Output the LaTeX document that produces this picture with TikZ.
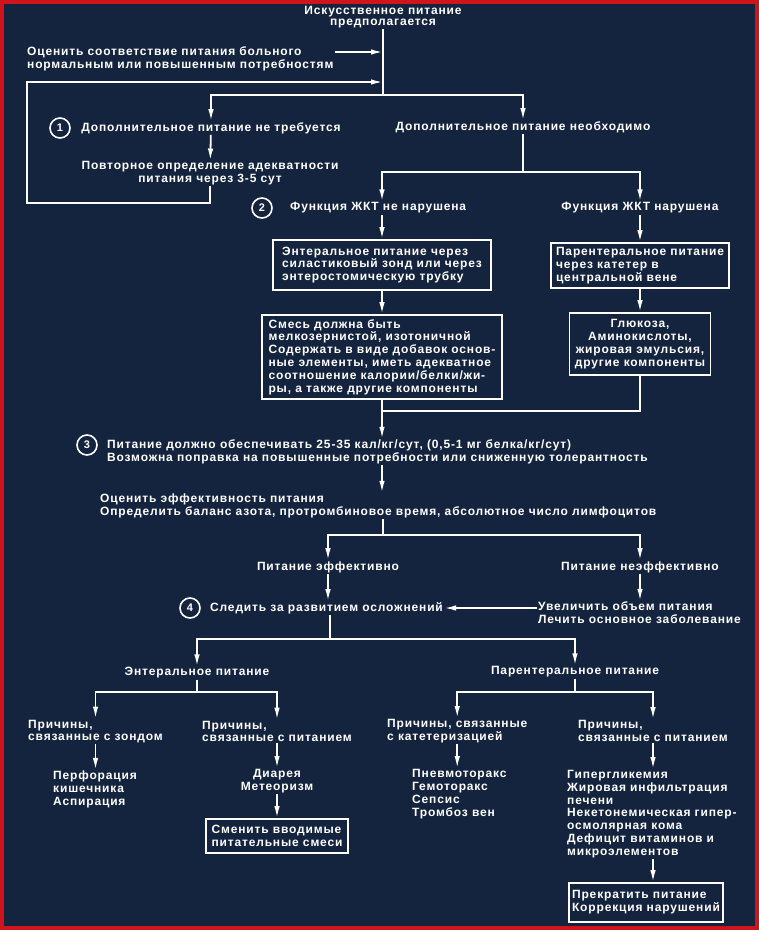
\documentclass[tikz,border=0pt]{standalone}
\usepackage{fontspec}
\setmainfont{Liberation Sans}[LetterSpace=7]
\usetikzlibrary{positioning,arrows.meta}
\definecolor{bgnavy}{HTML}{14243F}
\definecolor{framered}{HTML}{D0141C}
\tikzset{
  txt/.style={text=white, inner sep=1pt, align=left, font=\bfseries\fontsize{12}{12.8}\selectfont},
  ctxt/.style={txt, align=center},
  box/.style={txt, draw=white, line width=1.8pt, inner sep=3pt},
  num/.style={circle, draw=white, text=white, line width=1.6pt, minimum size=20pt, inner sep=0pt, font=\bfseries\fontsize{11}{11}\selectfont},
  link/.style={draw=white, line width=1.8pt},
  arr/.style={link, -{Latex[length=12pt,width=5.5pt]}},
}
\begin{document}
\begin{tikzpicture}[x=1pt,y=-1pt]
  \useasboundingbox (0,0) rectangle (759,930);
  % background and frame
  \fill[framered] (0,0) rectangle (759,930);
  \fill[bgnavy] (4,4) rectangle (755,926);

  % top part
  \node[ctxt, font=\bfseries\fontsize{12}{11}\selectfont] (start) at (383,17) {Искусственное питание\\предполагается};
  \node[txt, anchor=west] (assess) at (26,58.5) {Оценить соответствие питания больного\\нормальным или повышенным потребностям};
  \node[num] (n1) at (60,128) {1};
  \node[txt] (noneed) at (211,128) {Дополнительное питание не требуется};
  \node[txt] (need) at (523,127) {Дополнительное питание необходимо};
  \node[ctxt] (recheck) at (210,173.5) {Повторное определение адекватности\\питания через 3-5 сут};

  % GI tract
  \node[num] (n2) at (262,208) {2};
  \node[txt, anchor=west] (giok) at (289,208) {Функция ЖКТ не нарушена};
  \node[txt] (gibad) at (640,208) {Функция ЖКТ нарушена};
  \node[box, minimum width=218pt, minimum height=50pt] (enteral) at (382,265) {Энтеральное питание через\\силастиковый зонд или через\\энтеростомическую трубку};
  \node[box, minimum width=178pt, minimum height=45pt] (parenteral) at (640,265.5) {Парентеральное питание\\через катетер в\\центральной вене};
  \node[box, minimum width=240pt, minimum height=84pt] (mixture) at (382,357) {Смесь должна быть\\мелкозернистой, изотоничной\\Содержать в виде добавок основ-\\ные элементы, иметь адекватное\\соотношение калории/белки/жи-\\ры, а также другие компоненты};
  \node[box, align=center, minimum width=141pt, minimum height=62pt] (glucose) at (640,344) {Глюкоза,\\Аминокислоты,\\жировая эмульсия,\\другие компоненты};

  % dose and evaluation
  \node[num] (n3) at (87,445) {3};
  \node[txt, anchor=west] (calories) at (106,452) {Питание должно обеспечивать 25-35 кал/кг/сут, (0,5-1 мг белка/кг/сут)\\Возможна поправка на повышенные потребности или сниженную толерантность};
  \node[txt, anchor=west] (evaluate) at (99,506) {Оценить эффективность питания\\Определить баланс азота, протромбиновое время, абсолютное число лимфоцитов};
  \node[txt] (effective) at (328,567) {Питание эффективно};
  \node[txt] (ineffective) at (640,567) {Питание неэффективно};
  \node[num] (n4) at (190,608) {4};
  \node[txt, anchor=west] (watch) at (209,608) {Следить за развитием осложнений};
  \node[txt, anchor=west] (increase) at (537,613) {Увеличить объем питания\\Лечить основное заболевание};

  % complications
  \node[txt] (entnut) at (197,673) {Энтеральное питание};
  \node[txt] (parnut) at (575,672) {Парентеральное питание};
  \node[txt, anchor=west] (tube) at (27,731.5) {Причины,\\связанные с зондом};
  \node[txt, anchor=west] (feedE) at (201,731.5) {Причины,\\связанные с питанием};
  \node[txt, anchor=west] (cath) at (386,731) {Причины, связанные\\с катетеризацией};
  \node[txt, anchor=west] (feedP) at (577,731) {Причины,\\связанные с питанием};
  \node[txt, anchor=west] (tubeX) at (52,789.5) {Перфорация\\кишечника\\Аспирация};
  \node[ctxt] (feedEX) at (feedE.south |- 0,781) {Диарея\\Метеоризм};
  \node[box, minimum width=142pt, minimum height=34pt] (change) at (feedE.south |- 0,836) {Сменить вводимые\\питательные смеси};
  \node[txt, anchor=west] (cathX) at (411,794) {Пневмоторакс\\Гемоторакс\\Сепсис\\Тромбоз вен};
  \node[txt, anchor=west] (feedPX) at (566,814) {Гипергликемия\\Жировая инфильтрация\\печени\\Некетонемическая гипер-\\осмолярная кома\\Дефицит витаминов и\\микроэлементов};
  \node[box, minimum width=152pt, minimum height=39pt] (stop) at (646,902.5) {Прекратить питание\\Коррекция нарушений};

  % junctions
  \coordinate (feedin) at (383,52);
  \coordinate (loopin) at (383,82);
  \coordinate (loopend) at (27,203);
  \coordinate (fork1) at (383,95);
  \coordinate (fork2) at (523,172);
  \coordinate (merge) at (383,411);
  \coordinate (fork3) at (383,535);
  \coordinate (fork4) at (330,639);
  \coordinate (fork5) at (197,692);
  \coordinate (fork6) at (575,692);

  % connectors
  \draw[link] (start) -- (fork1);
  \draw[arr] (assess.east |- feedin) -- (feedin);
  \draw[arr] (recheck) |- (loopend) |- (loopin);
  \draw[arr] (fork1) -| (noneed);
  \draw[arr] (fork1) -| (need);
  \draw[arr] (noneed) -- (recheck);
  \draw[link] (need) -- (fork2);
  \draw[arr] (fork2) -| (giok.north -| enteral.north);
  \draw[arr] (fork2) -| (gibad);
  \draw[arr] (giok.south -| enteral.north) -- (enteral);
  \draw[arr] (gibad) -- (parenteral);
  \draw[arr] (enteral) -- (mixture);
  \draw[arr] (parenteral) -- (glucose);
  \draw[link] (glucose) |- (merge);
  \draw[arr] (mixture) -- (calories.north -| mixture.south);
  \draw[arr] (calories.south -| mixture.south) -- (evaluate.north -| mixture.south);
  \draw[link] (evaluate.south -| fork3) -- (fork3);
  \draw[arr] (fork3) -| (effective);
  \draw[arr] (fork3) -| (ineffective);
  \draw[arr] (effective) -- (effective |- watch.north);
  \draw[arr] (ineffective) -- (ineffective |- increase.north);
  \draw[arr] (increase.west |- watch.east) -- (watch.east);
  \draw[link] (watch.south -| fork4) -- (fork4);
  \draw[arr] (fork4) -| (entnut);
  \draw[arr] (fork4) -| (parnut);
  \draw[link] (entnut) -- (fork5);
  \draw[arr] (fork5) -| (tube);
  \draw[arr] (fork5) -| (feedE);
  \draw[link] (parnut) -- (fork6);
  \draw[arr] (fork6) -| (cath);
  \draw[arr] (fork6) -| (feedP);
  \draw[arr] (tube) -- (tube |- tubeX.north);
  \draw[arr] (feedE) -- (feedEX);
  \draw[arr] (feedEX) -- (change);
  \draw[arr] (cath) -- (cath |- cathX.north);
  \draw[arr] (feedP) -- (feedP |- feedPX.north);
  \draw[arr] (feedPX.south -| feedP) -- (stop.north -| feedP);
\end{tikzpicture}
\end{document}
